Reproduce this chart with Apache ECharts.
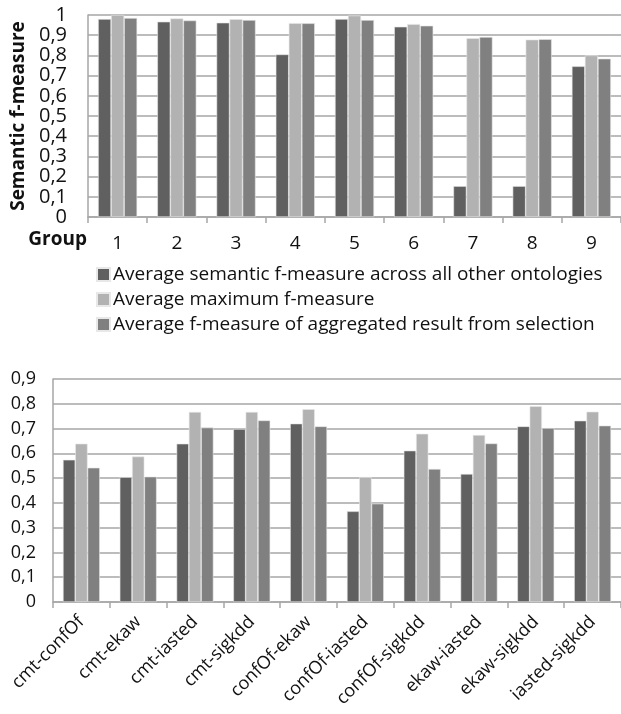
<!DOCTYPE html>
<html><head><meta charset="utf-8">
<script src="https://cdn.jsdelivr.net/npm/echarts@6/dist/echarts.min.js"></script>
<style>html,body{margin:0;padding:0;background:#fff}#c{width:621px;height:714px}</style>
</head><body><div id="c"></div>
<script>
var groups = ['1','2','3','4','5','6','7','8','9'];
var semAvg = [0.980, 0.967, 0.962, 0.805, 0.980, 0.942, 0.153, 0.153, 0.746];
var maxAvg = [1.000, 0.983, 0.979, 0.960, 0.997, 0.955, 0.885, 0.878, 0.800];
var aggAvg = [0.985, 0.973, 0.975, 0.959, 0.975, 0.947, 0.891, 0.880, 0.784];

var pairs = ['cmt-confOf','cmt-ekaw','cmt-iasted','cmt-sigkdd','confOf-ekaw','confOf-iasted','confOf-sigkdd','ekaw-iasted','ekaw-sigkdd','iasted-sigkdd'];
var pairSem = [0.574, 0.504, 0.639, 0.698, 0.720, 0.366, 0.611, 0.517, 0.709, 0.732];
var pairMax = [0.639, 0.587, 0.767, 0.767, 0.778, 0.504, 0.679, 0.674, 0.790, 0.768];
var pairAgg = [0.542, 0.506, 0.704, 0.733, 0.709, 0.397, 0.537, 0.640, 0.702, 0.712];

var names = ['Average semantic f-measure across all other ontologies','Average maximum f-measure','Average f-measure of aggregated result from selection'];
var colors = ['#606060','#b2b2b2','#808080'];
var FONT = '"Open Sans", "Liberation Sans", sans-serif';
var gridLine = {show:true, lineStyle:{color:'#a6a6a6', width:1.5}};
var axLine = {show:true, lineStyle:{color:'#a6a6a6', width:1.5}};
function fmt(v){ return String(Math.round(v*10)/10).replace('.',','); }

var chart = echarts.init(document.getElementById('c'), null, {renderer:'canvas'});
function bars(data, idx, axis){
  return {name:names[idx], type:'bar', xAxisIndex:axis, yAxisIndex:axis, data:data,
    itemStyle:{color:colors[idx], borderColor:'#e8e8e8', borderWidth:0.6},
    barGap:'0%', barCategoryGap:'34%', silent:true};
}
chart.setOption({
  animation:false,
  textStyle:{fontFamily:FONT},
  legend:{orient:'vertical', left:91, top:260, itemWidth:13, itemHeight:13, itemGap:6,
    icon:'rect', data:names, textStyle:{fontFamily:FONT, fontSize:19, color:'#111', padding:[0,0,0,-2]}},
  grid:[
    {left:88, top:15, width:535, height:202},
    {left:53, top:379, width:570, height:223}
  ],
  xAxis:[
    {type:'category', gridIndex:0, data:groups, boundaryGap:true,
     axisLine:axLine, axisTick:{show:true, length:6, lineStyle:{color:'#a6a6a6', width:1.5}},
     axisLabel:{fontFamily:FONT, fontSize:19, color:'#111', margin:17},
     name:'Group', nameLocation:'start', nameGap:1,
     nameTextStyle:{fontFamily:FONT, fontSize:19, fontWeight:'bold', color:'#111', verticalAlign:'top', padding:[13,0,0,0]}},
    {type:'category', gridIndex:1, data:pairs, boundaryGap:true,
     axisLine:axLine, axisTick:{show:true, length:6, lineStyle:{color:'#a6a6a6', width:1.5}},
     axisLabel:{fontFamily:FONT, fontSize:18, color:'#111', rotate:45, margin:17, interval:0}}
  ],
  yAxis:[
    {type:'value', gridIndex:0, min:0, max:1, interval:0.1,
     axisLine:axLine, axisTick:{show:false}, splitLine:gridLine,
     axisLabel:{fontFamily:FONT, fontSize:20, color:'#111', margin:21, formatter:fmt,
       showMinLabel:true, showMaxLabel:true, hideOverlap:false, lineHeight:20},
     name:'Semantic f-measure', nameLocation:'middle', nameGap:58,
     nameTextStyle:{fontFamily:FONT, fontSize:19, fontWeight:'bold', color:'#111'}},
    {type:'value', gridIndex:1, min:0, max:0.9, interval:0.1,
     axisLine:axLine, axisTick:{show:false}, splitLine:gridLine,
     axisLabel:{fontFamily:FONT, fontSize:18, color:'#111', margin:17, formatter:fmt,
       showMinLabel:true, showMaxLabel:true}}
  ],
  series:[
    bars(semAvg,0,0), bars(maxAvg,1,0), bars(aggAvg,2,0),
    Object.assign(bars(pairSem,0,1),{barCategoryGap:'35%'}),
    Object.assign(bars(pairMax,1,1),{barCategoryGap:'35%'}),
    Object.assign(bars(pairAgg,2,1),{barCategoryGap:'35%'})
  ]
});
</script></body></html>
